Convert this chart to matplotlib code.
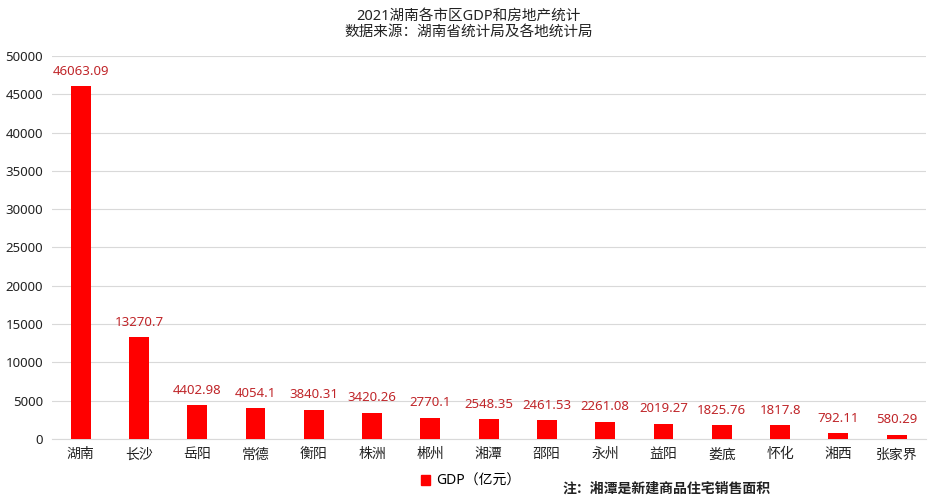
import matplotlib
matplotlib.use("Agg")
import matplotlib.pyplot as plt
from matplotlib.patches import Patch

plt.rcParams['font.family'] = ['Noto Sans', 'Noto Sans CJK SC', 'DejaVu Sans']

cities = ["湖南", "长沙", "岳阳", "常德", "衡阳", "株洲", "郴州", "湘潭", "邵阳", "永州",
          "益阳", "娄底", "怀化", "湘西", "张家界"]
gdp = [46063.09, 13270.7, 4402.98, 4054.1, 3840.31, 3420.26, 2770.1, 2548.35, 2461.53,
       2261.08, 2019.27, 1825.76, 1817.8, 792.11, 580.29]
labels = ["46063.09", "13270.7", "4402.98", "4054.1", "3840.31", "3420.26", "2770.1",
          "2548.35", "2461.53", "2261.08", "2019.27", "1825.76", "1817.8", "792.11", "580.29"]
yticks = [0, 5000, 10000, 15000, 20000, 25000, 30000, 35000, 40000, 45000, 50000]

fig = plt.figure(figsize=(9.37, 5), dpi=100)
ax = fig.add_axes([0.055, 0.122, 0.933, 0.766])

x = list(range(len(cities)))
bars = ax.bar(x, gdp, width=0.34, color="#FF0000", zorder=3)
for xi, v, lab in zip(x, gdp, labels):
    ax.annotate(lab, (xi, v), xytext=(0, 6), textcoords="offset points",
                ha="center", va="bottom", color="#C0262A", fontsize=9.5)

ax.set_xlim(-0.5, len(cities) - 0.5)
ax.set_ylim(0, 50000)
ax.set_yticks(yticks)
ax.set_yticklabels([str(t) for t in yticks], fontsize=9.5)
ax.set_xticks(x)
ax.set_xticklabels(cities, fontsize=10)
ax.grid(axis="y", color="#D9D9D9", linewidth=0.8, zorder=0)
for s in ["top", "right", "left"]:
    ax.spines[s].set_visible(False)
ax.spines["bottom"].set_color("#D9D9D9")
ax.tick_params(axis="both", length=0, pad=6, colors="#222222")

fig.text(0.5, 0.968, "2021湖南各市区GDP和房地产统计", ha="center", va="center", fontsize=10.5, color="#222222")
fig.text(0.5, 0.935, "数据来源：湖南省统计局及各地统计局", ha="center", va="center", fontsize=10.5, color="#222222")

fig.legend(handles=[Patch(color="#FF0000", label="GDP（亿元）")], loc="center",
           bbox_to_anchor=(0.502, 0.038), frameon=False, fontsize=10,
           handlelength=0.7, handleheight=0.7, handletextpad=0.4)
fig.text(0.6, 0.022, "注：湘潭是新建商品住宅销售面积", ha="left", va="center",
         fontsize=10, fontweight="bold", color="#222222")

fig.savefig("out.png", dpi=100)
